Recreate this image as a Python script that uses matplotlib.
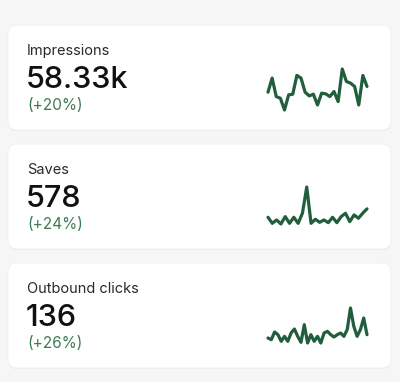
import numpy as np
import matplotlib.pyplot as plt
from matplotlib.patches import FancyBboxPatch

# card data
titles = ["Impressions", "Saves", "Outbound clicks"]
totals = ["58.33k", "578", "136"]
changes = ["(+20%)", "(+24%)", "(+26%)"]

impressions = [63, 105, 50, 45, 10, 55, 57, 113, 105, 63, 52, 57, 25, 60, 58,
               50, 65, 35, 132, 95, 90, 80, 25, 113, 80]
saves = [38, 20, 30, 18, 40, 20, 38, 20, 50, 128, 20, 32, 23, 30, 22, 38, 22,
         40, 50, 25, 45, 35, 50, 63]
outbound = [25, 20, 43, 35, 15, 30, 15, 40, 52, 30, 12, 65, 10, 35, 15, 30, 10,
            40, 45, 35, 28, 35, 40, 30, 50, 115, 60, 30, 50, 85, 35]
series = [impressions, saves, outbound]

W, H = 400, 382
card_tops = [25, 144, 263]
# vertical extent of each sparkline in pixels (top, bottom)
spark_y = [(69, 110), (187, 224), (308, 343)]

bg = "#f6f6f6"
line_col = "#215e3c"
pct_col = "#3f7a55"

plt.rcParams['font.family'] = ['Inter', 'DejaVu Sans']

fig = plt.figure(figsize=(W / 100, H / 100), dpi=100)
fig.patch.set_facecolor(bg)

ax = fig.add_axes([0, 0, 1, 1])
ax.set_xlim(0, W)
ax.set_ylim(H, 0)
ax.axis("off")

for i, top in enumerate(card_tops):
    # soft shadow then card
    shadow = FancyBboxPatch((8, top + 1), 383, 105, boxstyle="round,pad=0,rounding_size=9",
                            facecolor="#ebebeb", edgecolor="none", zorder=1)
    ax.add_patch(shadow)
    card = FancyBboxPatch((8, top), 383, 105, boxstyle="round,pad=0,rounding_size=9",
                          facecolor="white", edgecolor="#f0f0f0", linewidth=0.6, zorder=2)
    ax.add_patch(card)

    ax.text(27, top + 30, titles[i], fontsize=10.5, color="#2a2a2a",
            va="baseline", ha="left", zorder=3)
    ax.text(26, top + 63, totals[i], fontsize=22, color="#111111",
            fontweight="medium", va="baseline", ha="left", zorder=3)
    ax.text(27, top + 85, changes[i], fontsize=11, color=pct_col,
            va="baseline", ha="left", zorder=3)

    # sparkline
    y0, y1 = spark_y[i]
    sax = fig.add_axes([268 / W, 1 - y1 / H, 99 / W, (y1 - y0) / H])
    vals = np.array(series[i])
    sax.plot(np.arange(len(vals)), vals, color=line_col, lw=2.3,
             solid_joinstyle="round", solid_capstyle="round", clip_on=False)
    sax.set_xlim(0, len(vals) - 1)
    sax.set_ylim(vals.min(), vals.max())
    sax.axis("off")

fig.savefig("out.png", dpi=100, facecolor=bg)
